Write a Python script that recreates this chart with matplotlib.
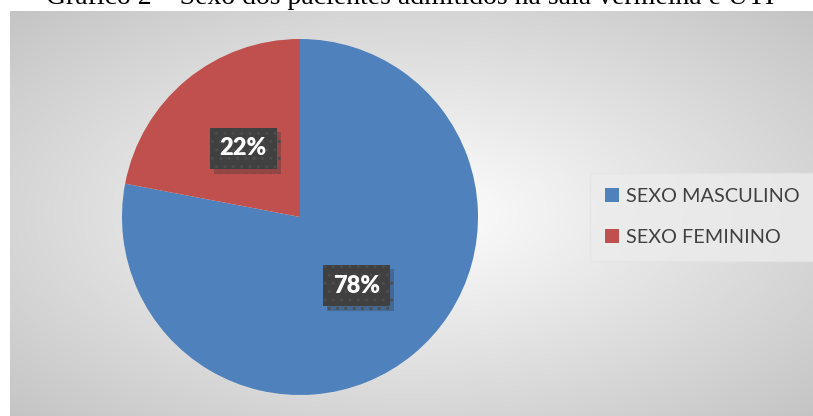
import numpy as np
import matplotlib
matplotlib.use("Agg")
import matplotlib.pyplot as plt
import matplotlib.patheffects as pe

title = "Gráfico 2 – Sexo dos pacientes admitidos na sala vermelha e UTI"
labels = ["SEXO MASCULINO", "SEXO FEMININO"]
values = [78, 22]
colors = ["#4F81BD", "#C0504D"]

W, H = 813, 416
fig = plt.figure(figsize=(W / 100, H / 100), dpi=100)
fig.patch.set_facecolor("white")
plt.rcParams["hatch.linewidth"] = 1.0

# chart area with radial gradient
bg = fig.add_axes([10 / W, 0, (W - 10) / W, 405 / H])
bg.set_axis_off()
yy, xx = np.mgrid[0:1:200j, 0:1:400j]
d = np.sqrt(((xx - 0.5) / 0.5) ** 2 + ((yy - 0.5) / 0.5) ** 2) / np.sqrt(2)
g = 1.0 - 0.23 * d
img = np.dstack([g, g, g])
bg.imshow(img, extent=[0, 1, 0, 1], aspect="auto", origin="lower")
bg.set_xlim(0, 1)
bg.set_ylim(0, 1)

fig.text(410 / W, 411.5 / H, title, ha="center", va="baseline",
         family="Liberation Serif", fontsize=20, color="black")

# pie
cx, cy, r = 300, 217, 178
ax = fig.add_axes([(cx - r) / W, (H - cy - r) / H, 2 * r / W, 2 * r / H])
wedges, texts, autotexts = ax.pie(
    values, colors=colors, startangle=90, counterclock=False,
    autopct="%d%%", pctdistance=0.5, radius=1,
    textprops=dict(color="white", fontsize=17, fontweight="heavy", family="Lato"))
ax.set_xlim(-1, 1)
ax.set_ylim(-1, 1)
ax.set_aspect("equal")

for t in autotexts:
    t.set_bbox(dict(boxstyle="square,pad=0.42", facecolor="#404040",
                    edgecolor="#4d4d4d", hatch="..", linewidth=0))
    t.get_bbox_patch().set_path_effects([
        pe.SimplePatchShadow(offset=(3, -3), shadow_rgbFace="#303030", alpha=0.3),
        pe.Normal()])

leg = fig.legend(wedges, labels, loc="center left",
                 bbox_to_anchor=(590 / W, (H - 217) / H),
                 frameon=True, fancybox=False, handlelength=0.7, handleheight=0.7,
                 handletextpad=0.35, labelspacing=1.2, borderpad=0.75,
                 borderaxespad=0,
                 prop=dict(family="Lato", size=14.3))
frame = leg.get_frame()
frame.set_facecolor("#ECECEC")
frame.set_edgecolor("#E4E4E4")
frame.set_alpha(0.8)
for t in leg.get_texts():
    t.set_color("#404040")

fig.savefig("out.png", dpi=100)
